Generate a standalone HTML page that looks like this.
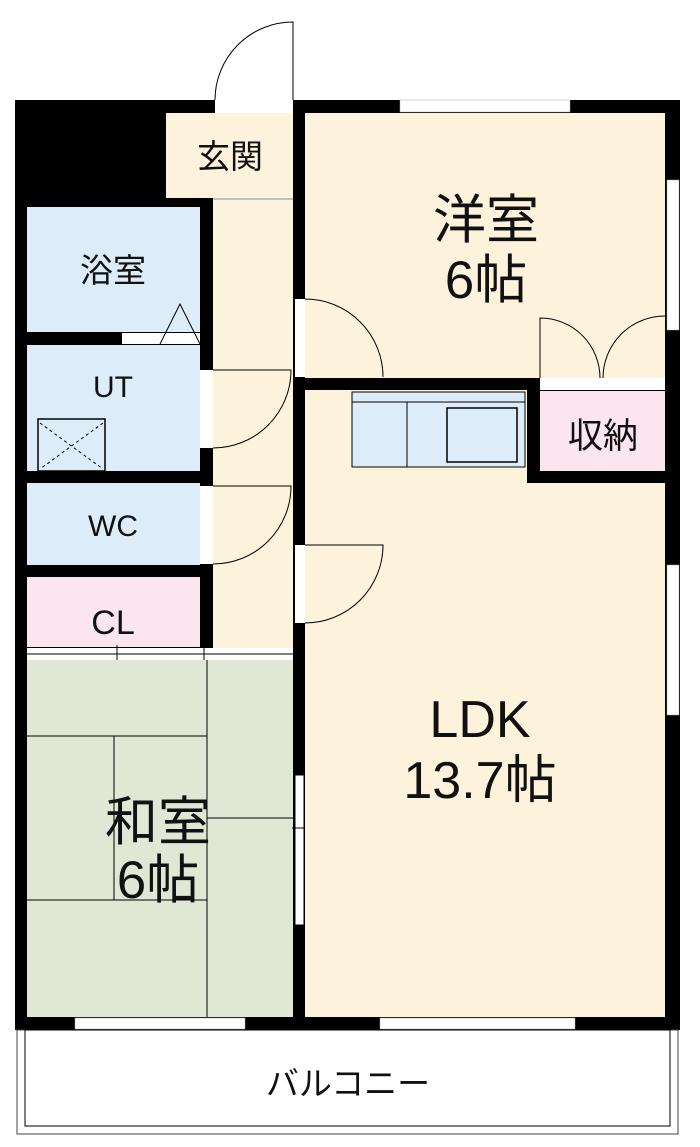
<!DOCTYPE html>
<html><head><meta charset="utf-8"><style>
html,body{margin:0;padding:0;background:#fff}
svg{display:block}
text{font-family:"Liberation Sans","Noto Sans CJK JP",sans-serif;fill:#111;text-anchor:middle}
</style></head><body>
<svg width="700" height="1147" viewBox="0 0 700 1147" xmlns="http://www.w3.org/2000/svg">
<rect x="15" y="100" width="665" height="930" fill="#000"/>
<rect x="166" y="113" width="127" height="85" fill="#fdf3dd"/>
<rect x="213" y="200" width="80" height="448" fill="#fdf3dd"/>
<line x1="213" y1="199" x2="293" y2="199" stroke="#fff" stroke-width="1.5"/>
<rect x="27" y="207" width="173" height="125" fill="#dcecf9"/>
<rect x="122" y="333" width="78" height="11" fill="#fff"/>
<polyline points="160,344 180,304 200,344" fill="none" stroke="#000" stroke-width="1"/>
<rect x="27" y="345" width="173" height="126" fill="#dcecf9"/>
<rect x="38" y="419" width="67" height="52" fill="none" stroke="#000" stroke-width="1.5"/>
<line x1="40" y1="423" x2="103" y2="469" stroke="#000" stroke-dasharray="3,3"/>
<line x1="103" y1="423" x2="40" y2="469" stroke="#000" stroke-dasharray="3,3"/>
<rect x="27" y="483" width="173" height="82" fill="#dcecf9"/>
<rect x="27" y="577" width="173" height="70" fill="#fbe5ee"/>
<rect x="27" y="648" width="266" height="12" fill="#fff"/>
<line x1="27" y1="654" x2="293" y2="654" stroke="#000" stroke-width="1"/>
<line x1="117" y1="645" x2="117" y2="662" stroke="#000"/>
<line x1="204" y1="645" x2="204" y2="662" stroke="#000"/>
<rect x="27" y="660" width="266" height="357" fill="#e0e7d5"/>
<g stroke="#000" stroke-width="1" fill="none">
<line x1="27" y1="736" x2="207" y2="736"/>
<line x1="207" y1="660" x2="207" y2="1017"/>
<line x1="114" y1="736" x2="114" y2="900"/>
<line x1="27" y1="900" x2="207" y2="900"/>
<line x1="207" y1="818" x2="293" y2="818"/>
</g>
<rect x="295" y="775" width="9" height="150" fill="#fff" stroke="#000" stroke-width="1"/>
<line x1="292" y1="828" x2="308" y2="828" stroke="#000"/>
<rect x="200" y="370" width="13" height="78" fill="#fff"/>
<path d="M213,370 L291,370 A78,78 0 0 1 213,448" fill="none" stroke="#000" stroke-width="1"/>
<rect x="200" y="486" width="13" height="78" fill="#fff"/>
<path d="M213,486 L291,486 A78,78 0 0 1 213,564" fill="none" stroke="#000" stroke-width="1"/>
<rect x="305" y="113" width="360" height="265" fill="#fdf3dd"/>
<rect x="540" y="378" width="125" height="12" fill="#fff"/>
<rect x="295" y="299" width="10" height="78" fill="#fff"/>
<path d="M305,299 A78,78 0 0 1 383,377" fill="none" stroke="#000" stroke-width="1"/>
<path d="M540,378 L540,318 A60,60 0 0 1 600,378 M665,316 A62,62 0 0 0 603,378" fill="none" stroke="#000" stroke-width="1"/>
<rect x="540" y="391" width="125" height="80" fill="#fbe5ee"/>
<rect x="305" y="390" width="222" height="93" fill="#fdf3dd"/>
<rect x="305" y="483" width="360" height="534" fill="#fdf3dd"/>
<rect x="352" y="392" width="173" height="75" fill="#dcecf9" stroke="#000" stroke-width="1"/>
<line x1="352" y1="402" x2="525" y2="402" stroke="#000"/>
<line x1="407" y1="402" x2="407" y2="467" stroke="#000"/>
<rect x="447" y="408" width="70" height="54" fill="#dcecf9" stroke="#000" stroke-width="1.5"/>
<rect x="295" y="545" width="10" height="78" fill="#fff"/>
<path d="M305,545 L383,545 A78,78 0 0 1 305,623" fill="none" stroke="#000" stroke-width="1"/>
<rect x="400" y="100" width="170" height="12" fill="#fff" stroke="#aaa" stroke-width="0.5"/>
<rect x="667" y="180" width="12" height="150" fill="#fff" stroke="#aaa" stroke-width="0.5"/>
<rect x="667" y="565" width="12" height="150" fill="#fff" stroke="#aaa" stroke-width="0.5"/>
<rect x="75" y="1018" width="170" height="11" fill="#fff" stroke="#aaa" stroke-width="0.5"/>
<rect x="380" y="1018" width="195" height="11" fill="#fff" stroke="#aaa" stroke-width="0.5"/>
<rect x="215" y="100" width="78" height="13" fill="#fff"/>
<path d="M215,100 A78,78 0 0 1 293,22 L293,100" fill="none" stroke="#000" stroke-width="1"/>
<rect x="15" y="1030" width="665" height="105" fill="#fff"/>
<rect x="17" y="1030" width="661" height="104" fill="none" stroke="#444" stroke-width="1"/>
<rect x="25" y="1030" width="645" height="96" fill="none" stroke="#000" stroke-width="1"/>
<text x="230" y="168" font-size="33">玄関</text>
<text x="113" y="282" font-size="33">浴室</text>
<text x="113" y="397" font-size="30">UT</text>
<text x="113" y="536" font-size="30">WC</text>
<text x="113" y="634" font-size="34">CL</text>
<text x="486" y="238" font-size="53">洋室</text>
<text x="486" y="298" font-size="53">6帖</text>
<text x="603" y="448" font-size="35">収納</text>
<text x="480" y="737" font-size="52">LDK</text>
<text x="480" y="798" font-size="52">13.7帖</text>
<text x="158" y="840" font-size="53">和室</text>
<text x="158" y="898" font-size="53">6帖</text>
<text x="348" y="1095" font-size="33">バルコニー</text>
</svg>
</body></html>
